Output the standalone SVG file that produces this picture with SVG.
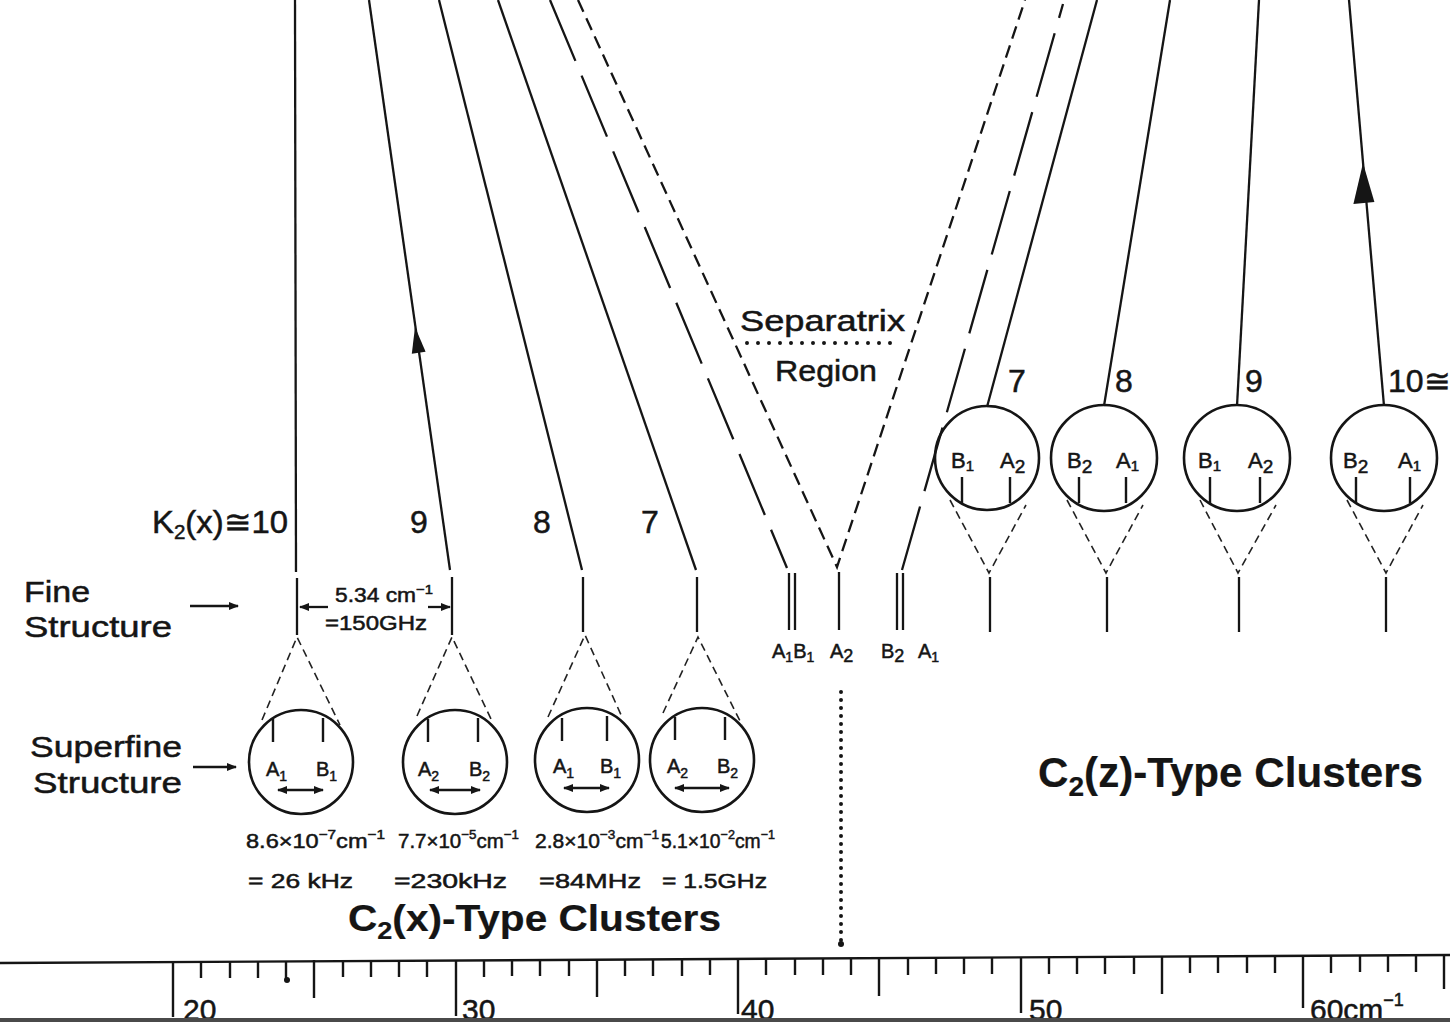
<svg xmlns="http://www.w3.org/2000/svg" width="1450" height="1031" viewBox="0 0 1450 1031">
  <style>
    text { font-family: "Liberation Sans", Arial, sans-serif; fill: #151515; stroke: #151515; stroke-width: 0.5; }
    .ttl { font-weight: bold; stroke-width: 0.2; }
    .ln { stroke: #151515; stroke-width: 2.3; fill: none; stroke-linecap: butt; }
    .ld { stroke-dasharray: 66 16; }
    .sd { stroke-dasharray: 13 7; }
    .fd { stroke: #222; stroke-width: 1.6; fill: none; stroke-dasharray: 8 5; }
    .circ { stroke: #151515; stroke-width: 2.6; fill: none; }
    .tick { stroke: #151515; stroke-width: 2.4; fill: none; }
    .dots { stroke: #151515; stroke-width: 4; stroke-linecap: round; fill: none; }
    .lbl { font-size: 30px; }
    .num { font-size: 32px; }
    .sub { font-size: 20px; }
    .cl { font-size: 22px; }
  </style>
  <defs>
    <marker id="ah" viewBox="0 0 10 8" refX="9" refY="4" markerWidth="10" markerHeight="8" markerUnits="userSpaceOnUse" orient="auto-start-reverse">
      <path d="M0,0 L10,4 L0,8 z" fill="#151515"/>
    </marker>
  </defs>
  <rect width="1450" height="1031" fill="#fff"/>

  <!-- level lines (trajectories) -->
  <g id="connectors">
    <!-- C2(x) side -->
    <path class="ln" d="M295,0 L296,572"/>
    <path class="ln" d="M369,0 L450,570"/>
    <polygon points="415,327 425.6,351.7 411.8,353.7" fill="#151515"/>
    <path class="ln" d="M439,0 L582,570"/>
    <path class="ln" d="M498,0 L696,570"/>
    <path class="ln ld" d="M550,0 L787,568"/>
    <path class="ln sd" d="M578,0 L837,567 L1025,0"/>
    <!-- C2(z) side -->
    <path class="ln ld" d="M902,570 L1063,4"/>
    <path class="ln" d="M987,407 L1097,0"/>
    <path class="ln" d="M1104,406 L1170,0"/>
    <path class="ln" d="M1237,406 L1259,0"/>
    <path class="ln" d="M1384,406 L1349,0"/>
    <polygon points="1363,163 1374.4,202.1 1353.4,203.9" fill="#151515"/>

    <!-- fine-structure stubs -->
    <path class="ln" d="M297,578 V635 M452,577 V635 M583,577 V632 M697,577 V632"/>
    <path class="ln" d="M789,573 V630 M795,573 V630 M839,572 V630 M897,573 V630 M903,573 V630"/>
    <path class="ln" d="M990,577 V632 M1107,577 V632 M1239,577 V632 M1386,577 V632"/>

    <!-- zoom cones to superfine circles -->
    <path class="fd" d="M262,720 L297,637 L340,725"/>
    <path class="fd" d="M417,716 L452,637 L492,721"/>
    <path class="fd" d="M548,717 L585,635 L622,717"/>
    <path class="fd" d="M663,713 L698,637 L742,725"/>
    <path class="fd" d="M950,500 L989,573 L1026,505"/>
    <path class="fd" d="M1067,500 L1106,573 L1143,505"/>
    <path class="fd" d="M1200,500 L1238,573 L1276,505"/>
    <path class="fd" d="M1347,500 L1386,573 L1423,505"/>

    <!-- separatrix boundary and C2(x)/C2(z) divider -->
    <path class="dots" d="M747,343 H901" stroke-dasharray="0 11"/>
    <path class="dots" d="M841,692 V944" stroke-dasharray="0 8"/>

    <!-- spacing dimension and pointer arrows -->
    <path class="ln" d="M328,607 H300" stroke-width="1.8" marker-end="url(#ah)"/>
    <path class="ln" d="M428,607 H450" stroke-width="1.8" marker-end="url(#ah)"/>
    <path class="ln" d="M190,606 H238" stroke-width="2" marker-end="url(#ah)"/>
    <path class="ln" d="M193,767 H236" stroke-width="2" marker-end="url(#ah)"/>
  </g>

  <!-- left-hand labels -->
  <g id="labels-left">
    <text class="lbl" x="24" y="602" textLength="66" lengthAdjust="spacingAndGlyphs">Fine</text>
    <text class="lbl" x="24" y="637" textLength="148" lengthAdjust="spacingAndGlyphs">Structure</text>
    <text class="lbl" x="30" y="757" textLength="152" lengthAdjust="spacingAndGlyphs">Superfine</text>
    <text class="lbl" x="33" y="793" textLength="149" lengthAdjust="spacingAndGlyphs">Structure</text>
    <text class="num" x="152" y="533" textLength="136" lengthAdjust="spacingAndGlyphs">K<tspan class="sub" dy="6">2</tspan><tspan dy="-6">(x)≅10</tspan></text>
    <text class="num" x="410" y="533">9</text>
    <text class="num" x="533" y="533">8</text>
    <text class="num" x="641" y="533">7</text>
    <text x="335" y="602" font-size="20" textLength="98" lengthAdjust="spacingAndGlyphs">5.34 cm<tspan dy="-8" font-size="13">−1</tspan></text>
    <text x="325" y="630" font-size="20" textLength="102" lengthAdjust="spacingAndGlyphs">=150GHz</text>
  </g>

  <!-- superfine clusters, C2(x) type -->
  <g id="sf-x-1">
    <circle class="circ" cx="301" cy="762" r="52"/>
    <path class="tick" d="M273,719 V742 M323,718 V742"/>
    <text x="266" y="776" font-size="20">A<tspan dy="5" font-size="14">1</tspan></text>
    <text x="316" y="776" font-size="20">B<tspan dy="5" font-size="14">1</tspan></text>
    <path class="ln" d="M278,790 H323" stroke-width="1.8" marker-start="url(#ah)" marker-end="url(#ah)"/>
  </g>
  <g id="sf-x-2">
    <circle class="circ" cx="455" cy="762" r="52"/>
    <path class="tick" d="M428,719 V742 M478,718 V742"/>
    <text x="418" y="776" font-size="20">A<tspan dy="5" font-size="14">2</tspan></text>
    <text x="469" y="776" font-size="20">B<tspan dy="5" font-size="14">2</tspan></text>
    <path class="ln" d="M430,790 H480" stroke-width="1.8" marker-start="url(#ah)" marker-end="url(#ah)"/>
  </g>
  <g id="sf-x-3">
    <circle class="circ" cx="587" cy="760" r="52"/>
    <path class="tick" d="M562,718 V741 M607,716 V741"/>
    <text x="553" y="773" font-size="20">A<tspan dy="5" font-size="14">1</tspan></text>
    <text x="600" y="773" font-size="20">B<tspan dy="5" font-size="14">1</tspan></text>
    <path class="ln" d="M564,788 H609" stroke-width="1.8" marker-start="url(#ah)" marker-end="url(#ah)"/>
  </g>
  <g id="sf-x-4">
    <circle class="circ" cx="702" cy="760" r="52"/>
    <path class="tick" d="M675,717 V740 M725,717 V740"/>
    <text x="667" y="773" font-size="20">A<tspan dy="5" font-size="14">2</tspan></text>
    <text x="717" y="773" font-size="20">B<tspan dy="5" font-size="14">2</tspan></text>
    <path class="ln" d="M675,788 H729" stroke-width="1.8" marker-start="url(#ah)" marker-end="url(#ah)"/>
  </g>

  <!-- splittings under the C2(x) clusters -->
  <g id="splittings" font-size="20">
    <text x="246" y="848" textLength="139" lengthAdjust="spacingAndGlyphs">8.6×10<tspan dy="-9" font-size="13">−7</tspan><tspan dy="9">cm</tspan><tspan dy="-9" font-size="13">−1</tspan></text>
    <text x="398" y="848" textLength="121" lengthAdjust="spacingAndGlyphs">7.7×10<tspan dy="-9" font-size="13">−5</tspan><tspan dy="9">cm</tspan><tspan dy="-9" font-size="13">−1</tspan></text>
    <text x="535" y="848" textLength="124" lengthAdjust="spacingAndGlyphs">2.8×10<tspan dy="-9" font-size="13">−3</tspan><tspan dy="9">cm</tspan><tspan dy="-9" font-size="13">−1</tspan></text>
    <text x="661" y="848" textLength="114" lengthAdjust="spacingAndGlyphs">5.1×10<tspan dy="-9" font-size="13">−2</tspan><tspan dy="9">cm</tspan><tspan dy="-9" font-size="13">−1</tspan></text>
    <text x="248" y="888" textLength="105" lengthAdjust="spacingAndGlyphs">= 26 kHz</text>
    <text x="394" y="888" textLength="113" lengthAdjust="spacingAndGlyphs">=230kHz</text>
    <text x="539" y="888" textLength="102" lengthAdjust="spacingAndGlyphs">=84MHz</text>
    <text x="662" y="888" textLength="105" lengthAdjust="spacingAndGlyphs">= 1.5GHz</text>
  </g>
  <text class="ttl" x="348" y="931" font-size="36" textLength="373" lengthAdjust="spacingAndGlyphs">C<tspan dy="8" font-size="24">2</tspan><tspan dy="-8">(x)-Type Clusters</tspan></text>

  <!-- separatrix region -->
  <g id="separatrix">
    <text class="lbl" x="740" y="331" textLength="165" lengthAdjust="spacingAndGlyphs">Separatrix</text>
    <text class="lbl" x="775" y="381" textLength="102" lengthAdjust="spacingAndGlyphs">Region</text>
    <g font-size="20">
      <text x="772" y="658">A<tspan dy="4" font-size="14">1</tspan><tspan dy="-4">B</tspan><tspan dy="4" font-size="14">1</tspan></text>
      <text x="830" y="658">A<tspan dy="4" font-size="18">2</tspan></text>
      <text x="881" y="658">B<tspan dy="4" font-size="18">2</tspan></text>
      <text x="918" y="658">A<tspan dy="4" font-size="14">1</tspan></text>
    </g>
  </g>

  <!-- superfine clusters, C2(z) type -->
  <g id="sf-z-1">
    <circle class="circ" cx="987" cy="458" r="52"/>
    <path class="tick" d="M962,477 V503 M1010,477 V503"/>
    <text class="cl" x="951" y="468">B<tspan dy="3" font-size="15">1</tspan></text>
    <text class="cl" x="1000" y="468">A<tspan dy="5" font-size="19">2</tspan></text>
    <text class="num" x="1008" y="392">7</text>
  </g>
  <g id="sf-z-2">
    <circle class="circ" cx="1104" cy="458" r="53"/>
    <path class="tick" d="M1079,477 V503 M1126,477 V503"/>
    <text class="cl" x="1067" y="468">B<tspan dy="5" font-size="19">2</tspan></text>
    <text class="cl" x="1116" y="468">A<tspan dy="3" font-size="15">1</tspan></text>
    <text class="num" x="1115" y="392">8</text>
  </g>
  <g id="sf-z-3">
    <circle class="circ" cx="1237" cy="458" r="53"/>
    <path class="tick" d="M1210,477 V503 M1260,477 V503"/>
    <text class="cl" x="1198" y="468">B<tspan dy="3" font-size="15">1</tspan></text>
    <text class="cl" x="1248" y="468">A<tspan dy="5" font-size="19">2</tspan></text>
    <text class="num" x="1245" y="392">9</text>
  </g>
  <g id="sf-z-4">
    <circle class="circ" cx="1384" cy="458" r="53"/>
    <path class="tick" d="M1356,477 V503 M1410,477 V503"/>
    <text class="cl" x="1343" y="468">B<tspan dy="5" font-size="19">2</tspan></text>
    <text class="cl" x="1398" y="468">A<tspan dy="3" font-size="15">1</tspan></text>
    <text class="num" x="1388" y="392">10≅</text>
  </g>
  <text class="ttl" x="1038" y="787" font-size="42" textLength="385" lengthAdjust="spacingAndGlyphs">C<tspan dy="9" font-size="28">2</tspan><tspan dy="-9">(z)-Type Clusters</tspan></text>

  <!-- wavenumber axis -->
  <g id="axis">
    <path class="tick" d="M0,963 L1450,955"/>
    <path class="tick" d="M201,961v17 M230,961v17 M258,961v17 M286,961v18 M343,960v17 M371,960v17 M399,960v17 M427,960v17 M484,960v17 M512,959v17 M540,959v17 M569,959v17 M625,959v17 M653,959v17 M682,959v17 M710,958v17 M766,958v17 M795,958v17 M823,958v17 M851,958v17 M908,958v17 M936,957v17 M964,957v17 M992,957v17 M1049,957v17 M1077,957v17 M1105,957v17 M1134,957v17 M1190,956v17 M1218,956v17 M1247,956v17 M1275,956v17 M1331,956v17 M1360,955v17 M1388,955v17 M1416,955v17"/>
    <path class="tick" d="M314,960v38 M597,959v38 M879,958v38 M1162,956v38 M1444,955v34"/>
    <path class="tick" d="M173,961v56 M456,960v56 M738,958v56 M1021,957v56 M1303,956v52"/>
    <circle cx="287" cy="980" r="3" fill="#151515"/>
    <circle cx="841" cy="944" r="3" fill="#151515"/>
    <text x="183" y="1020" font-size="30">20</text>
    <text x="462" y="1020" font-size="30">30</text>
    <text x="741" y="1020" font-size="30">40</text>
    <text x="1029" y="1020" font-size="30">50</text>
    <text x="1310" y="1020" font-size="30">60cm<tspan dy="-14" font-size="18">−1</tspan></text>
    <rect x="0" y="1018" width="1450" height="4" fill="#4a4a4a"/>
  </g>
</svg>
